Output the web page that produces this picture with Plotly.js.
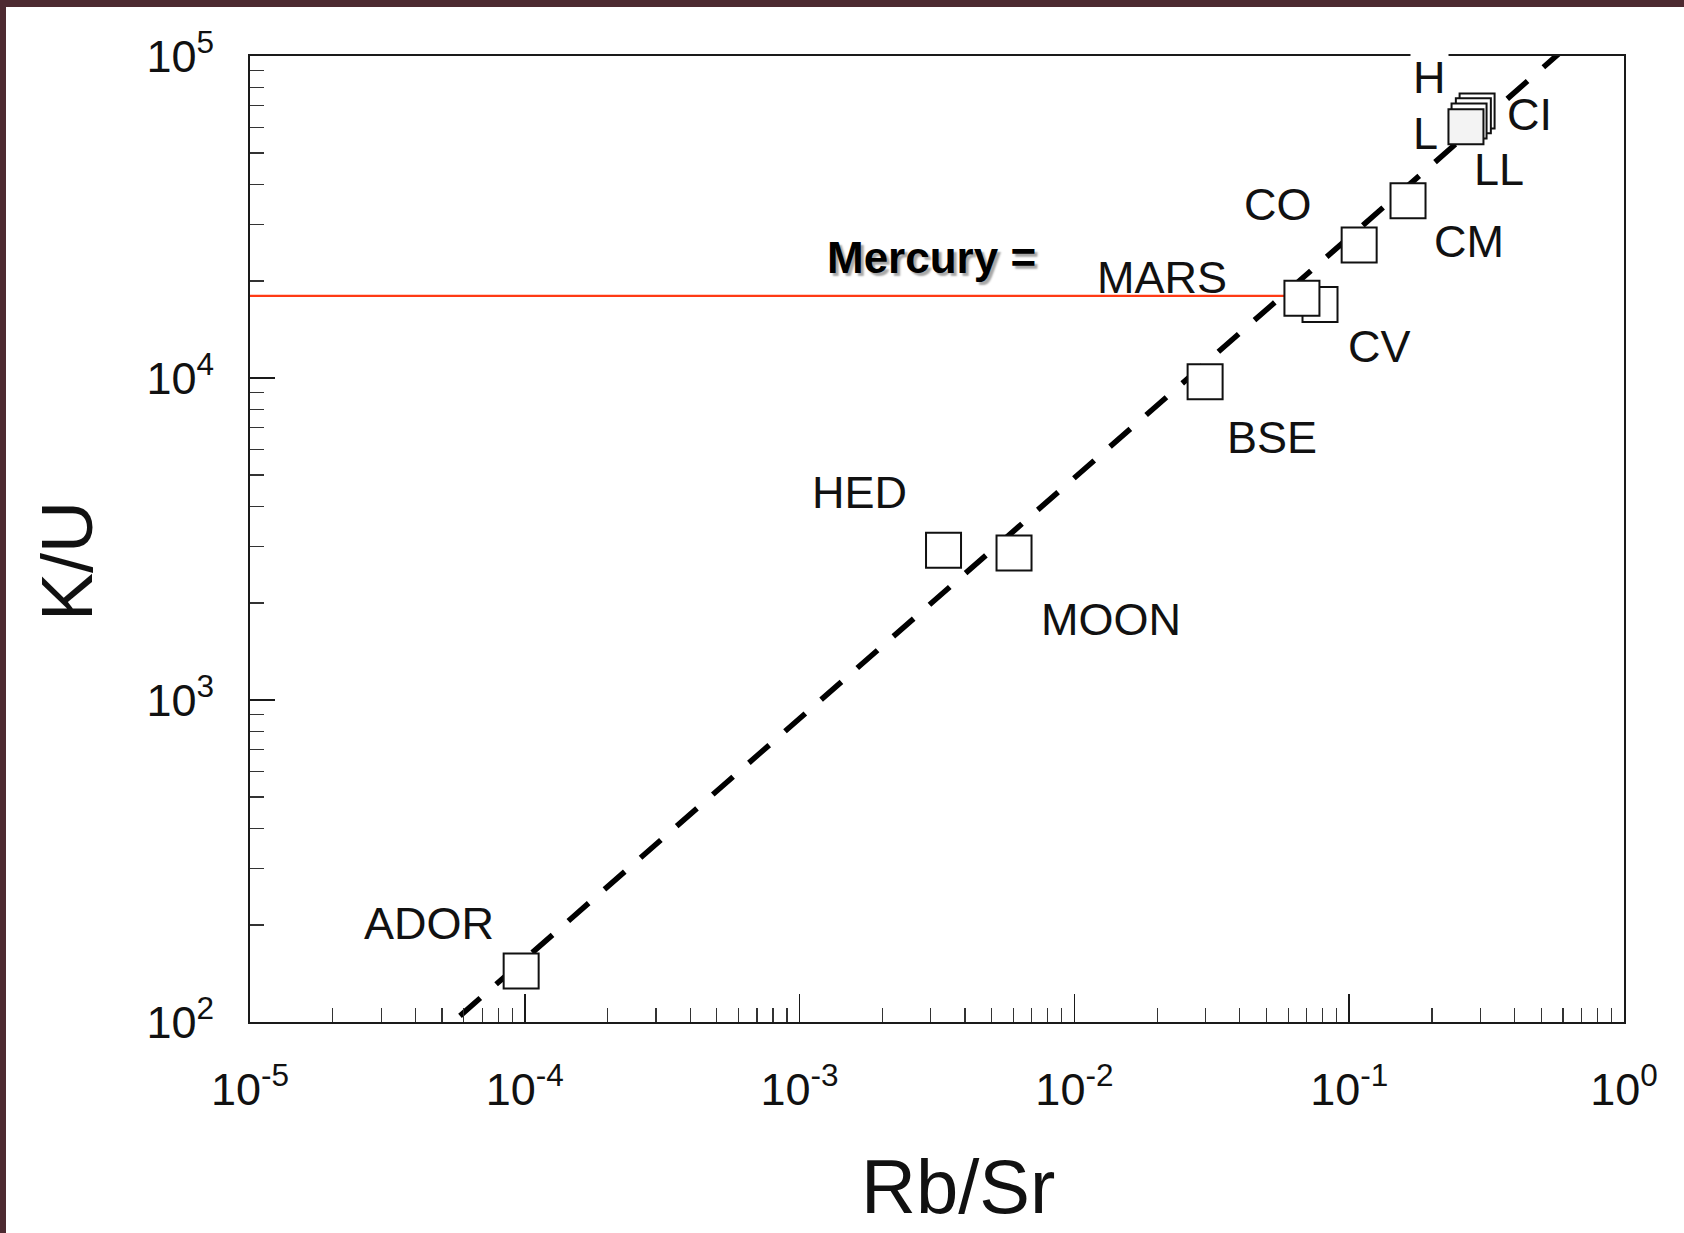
<!DOCTYPE html>
<html>
<head>
<meta charset="utf-8">
<script src="https://cdn.plot.ly/plotly-3.0.1.min.js"></script>
<style>
  html, body { margin: 0; padding: 0; background: #4d2a31; width: 1684px; height: 1233px; overflow: hidden; }
  #chart { position: absolute; left: 6px; top: 7px; width: 1678px; height: 1226px; background: #ffffff; }
</style>
</head>
<body>
<div id="chart"></div>
<script>
// ---- data ----
const pointNames = ['ADOR', 'HED', 'MOON', 'BSE', 'CV', 'MARS', 'CO', 'CM', 'CI', 'H', 'L', 'LL'];
const rbSr = [9.7e-5, 3.34e-3, 6.03e-3, 0.0299, 0.0783, 0.0673, 0.1087, 0.1637, 0.292, 0.283, 0.273, 0.266];
const kU = [144, 2920, 2860, 9730, 16900, 17700, 25900, 35500, 67500, 65200, 62800, 60300];

const trendRbSr = [5.81e-5, 0.600];
const trendKU = [104.5, 104400];

const mercuryKU = 18000;
const mercuryRbSr = [1e-5, 0.0589];
const mercuryLabel = 'Mercury =';
const mercuryLabelRbSr = 3.03e-3;

const xTickVals = [1e-5, 1e-4, 1e-3, 1e-2, 1e-1, 1];
const xTickText = ['10<sup>-5</sup>', '10<sup>-4</sup>', '10<sup>-3</sup>', '10<sup>-2</sup>', '10<sup>-1</sup>', '10<sup>0</sup>'];
const yTickVals = [1e2, 1e3, 1e4, 1e5];
const yTickText = ['10<sup>2</sup>', '10<sup>3</sup>', '10<sup>4</sup>', '10<sup>5</sup>'];

const xTitle = 'Rb/Sr';
const yTitle = 'K/U';

// ---- label placement (pixels, relative to point) ----
const labelOffsets = {
  ADOR: [-92, 48], HED: [-84, 58], MOON: [97, -66], BSE: [67, -56],
  MARS: [-140, 21], CV: [59, -42], CO: [-81, 40], CM: [61, -41],
  CI: [52, -4], H: [-44, 38], L: [-44, -12], LL: [33, -43]
};

const FONT = 'Arial, "Liberation Sans", Helvetica, sans-serif';

const fills = pointNames.map(n => n === 'LL' ? '#f3f3f3' : '#ffffff');

const traces = [
  {
    x: trendRbSr, y: trendKU, mode: 'lines', type: 'scatter',
    line: { color: '#000', width: 5.5, dash: '27px,21px' }, hoverinfo: 'skip', showlegend: false
  },
  {
    x: mercuryRbSr, y: [mercuryKU, mercuryKU], mode: 'lines', type: 'scatter',
    line: { color: '#ff3a14', width: 2.2 }, hoverinfo: 'skip', showlegend: false
  },
  {
    x: rbSr, y: kU, mode: 'markers', type: 'scatter', text: pointNames,
    marker: { symbol: 'square', size: 35, color: fills, line: { color: '#111', width: 2 } },
    showlegend: false, hoverinfo: 'text+x+y'
  }
];

const annotations = pointNames.map((n, i) => {
  const o = labelOffsets[n];
  const a = {
    x: Math.log10(rbSr[i]), y: Math.log10(kU[i]), xref: 'x', yref: 'y',
    text: n, showarrow: false, xanchor: 'center', yanchor: 'middle',
    xshift: o[0], yshift: o[1],
    font: { family: FONT, size: 45, color: '#111' }
  };
  if (n === 'H') { a.bgcolor = '#ffffff'; a.borderpad = 2; }
  return a;
});
annotations.push({
  x: Math.log10(mercuryLabelRbSr), y: Math.log10(mercuryKU), xref: 'x', yref: 'y',
  text: mercuryLabel, showarrow: false, xanchor: 'center', yanchor: 'middle',
  yshift: 38,
  font: { family: FONT, size: 44, color: '#000', weight: 'bold', shadow: '3px 3px 2px rgba(0,0,0,0.35)' }
});
// axis titles
annotations.push({
  x: 0.5153, y: -0.1708, xref: 'paper', yref: 'paper',
  text: xTitle, showarrow: false, xanchor: 'center', yanchor: 'middle',
  font: { family: FONT, size: 76, color: '#111' }
});
annotations.push({
  x: -0.1332, y: 0.4772, xref: 'paper', yref: 'paper',
  text: yTitle, showarrow: false, xanchor: 'center', yanchor: 'middle', textangle: -90,
  font: { family: FONT, size: 72, color: '#111' }
});

const axisCommon = {
  type: 'log', showgrid: false, zeroline: false,
  showline: true, linecolor: '#1a1a1a', linewidth: 2, mirror: true,
  ticks: 'inside', tickcolor: '#1a1a1a', tickwidth: 1.5,
  tickmode: 'array',
  minor: { ticks: 'inside', ticklen: 14, tickwidth: 1.2, tickcolor: '#333', dtick: 'D1', showgrid: false },
  tickfont: { family: FONT, size: 45, color: '#111' }
};

const layout = {
  width: 1678, height: 1226,
  margin: { l: 244, r: 60, t: 49, b: 211 },
  paper_bgcolor: '#ffffff', plot_bgcolor: '#ffffff',
  showlegend: false,
  xaxis: Object.assign({}, axisCommon, {
    range: [-5, 0], tickvals: xTickVals, ticktext: xTickText, ticklen: 28,
    ticklabelstandoff: 27
  }),
  yaxis: Object.assign({}, axisCommon, {
    range: [2, 5], tickvals: yTickVals, ticktext: yTickText, ticklen: 25,
    ticklabelstandoff: 25
  }),
  annotations: annotations
};

Plotly.newPlot('chart', traces, layout, { displayModeBar: false, staticPlot: true });
</script>
</body>
</html>
